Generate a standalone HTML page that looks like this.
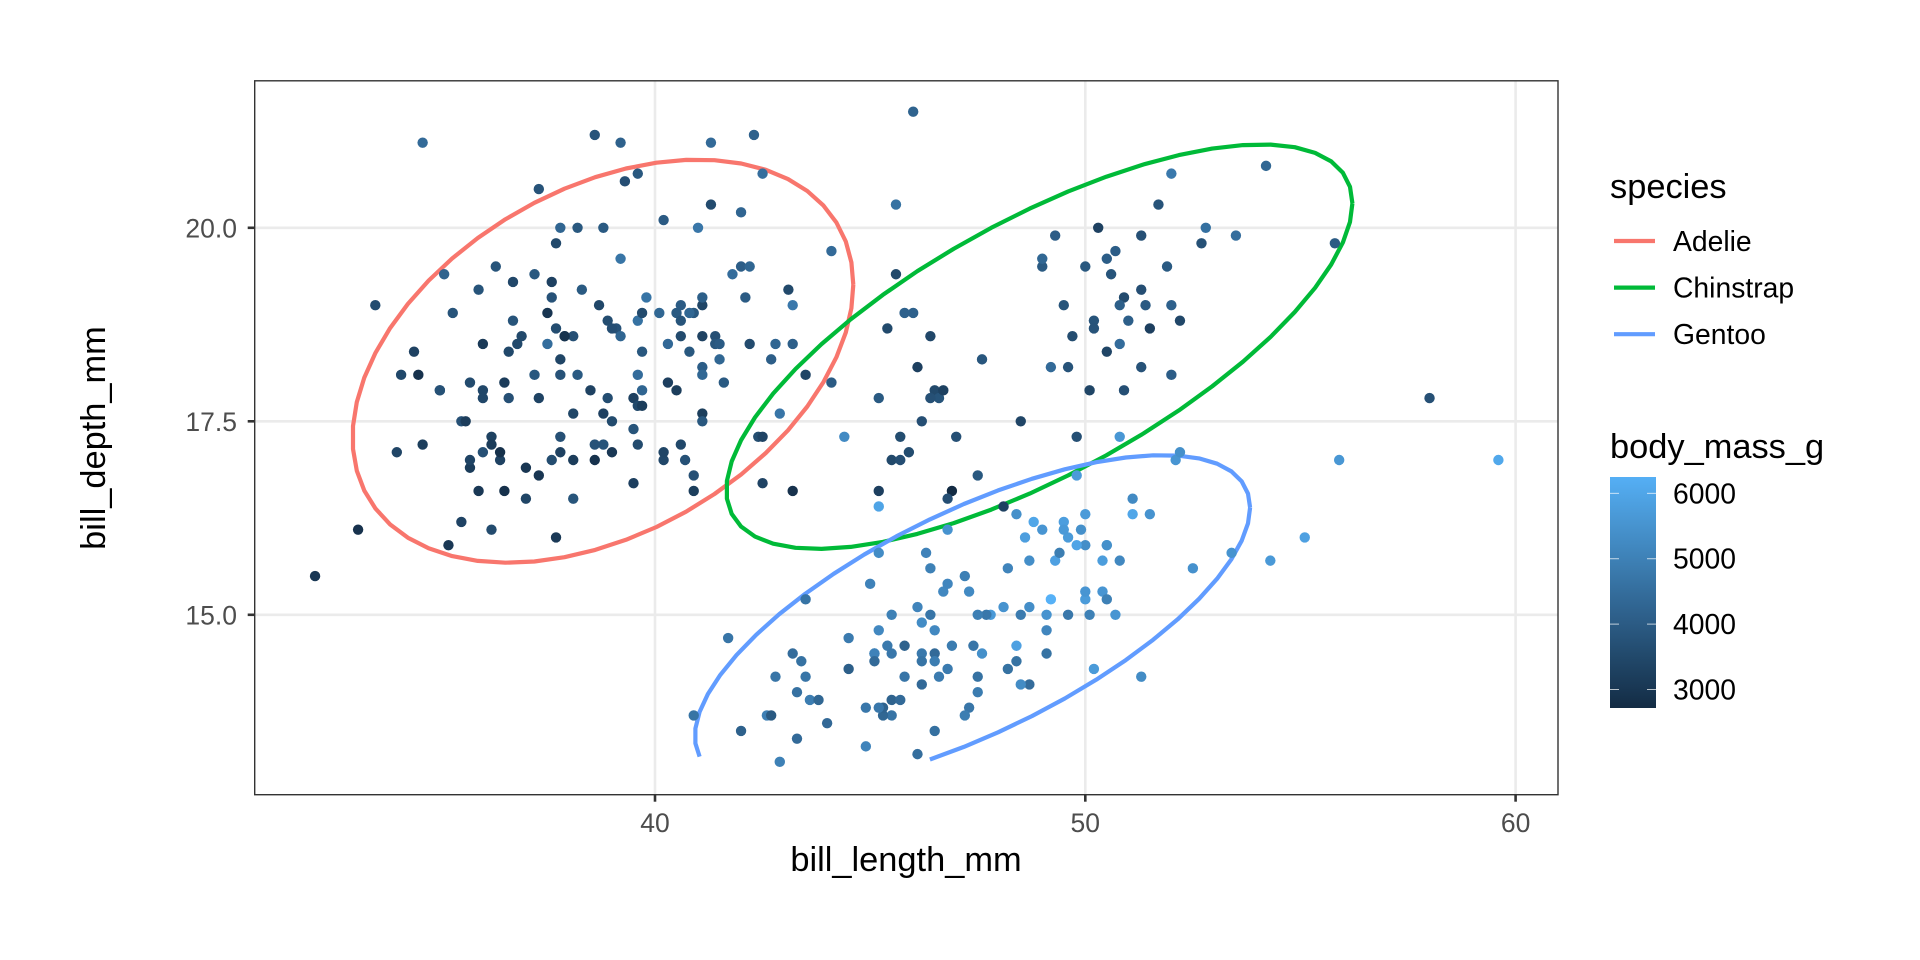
<!DOCTYPE html>
<html><head><meta charset="utf-8"><style>
html,body{margin:0;padding:0;background:#fff;}
svg{display:block;font-family:"Liberation Sans",sans-serif;}
</style></head><body>
<svg id="chart" width="1920" height="960" viewBox="0 0 1920 960">
<rect width="1920" height="960" fill="#fff"/>
<g id="grid"></g>
<g id="ellipses"></g>
<g id="points"></g>
<rect x="254.7" y="80.8" width="1303.3" height="713.9" fill="none" stroke="#333" stroke-width="1.4"/>
<g id="axes"></g>
<text x="906" y="871" font-size="34.4" text-anchor="middle" fill="#000">bill_length_mm</text>
<text x="0" y="0" font-size="34.4" text-anchor="middle" fill="#000" transform="translate(105,438) rotate(-90)">bill_depth_mm</text>
<g id="legend">
<text x="1610" y="198" font-size="34.4" fill="#000">species</text>
<text x="1610" y="458" font-size="34.4" fill="#000">body_mass_g</text>
</g>
</svg>
<script>
const categories = ["Adelie","Chinstrap","Gentoo"];
const speciesColors = ["#F8766D","#00BA38","#619CFF"];
const xTicks = [40,50,60];
const yTicks = [15,17.5,20];
const yTickLabels = ["15.0","17.5","20.0"];
const massTicks = [3000,4000,5000,6000];
const adelieX=[39.1,39.5,40.3,36.7,39.3,38.9,39.2,34.1,42,37.8,37.8,41.1,38.6,34.6,36.6,38.7,42.5,34.4,46,37.8,37.7,35.9,38.2,38.8,35.3,40.6,40.5,37.9,40.5,39.5,37.2,39.5,40.9,36.4,39.2,38.8,42.2,37.6,39.8,36.5,40.8,36,44.1,37,39.6,41.1,37.5,36,42.3,39.6,40.1,35,42,34.5,41.4,39,40.6,36.5,37.6,35.7,41.3,37.6,41.1,36.4,41.6,35.5,41.1,35.9,41.8,33.5,39.7,39.6,45.8,35.5,42.8,40.9,37.2,36.2,42.1,34.6,42.9,36.7,35.1,37.3,41.3,36.3,36.9,38.3,38.9,35.7,41.1,34,39.6,36.2,40.8,38.1,40.3,33.1,43.2,35,41,37.7,37.8,37.9,39.7,38.6,38.2,38.1,43.2,38.1,45.6,39.7,42.2,39.6,42.7,38.6,37.3,35.7,41.1,36.2,37.7,40.2,41.4,35.2,40.6,38.8,41.5,39,44.1,38.5,43.1,36.8,37.5,38.1,41.1,35.6,40.2,37,39.7,40.2,40.6,32.1,40.7,37.3,39,39.2,36.6,36,37.8,36,41.5];
const adelieY=[18.7,17.4,18,19.3,20.6,17.8,19.6,18.1,20.2,17.1,17.3,17.6,21.2,21.1,17.8,19,20.7,18.4,21.5,18.3,18.7,19.2,18.1,17.2,18.9,18.6,17.9,18.6,18.9,16.7,18.1,17.8,18.9,17,21.1,20,18.5,19.3,19.1,18,18.4,18.5,19.7,16.9,18.8,19,18.9,17.9,21.2,17.7,18.9,17.9,19.5,18.1,18.6,17.5,18.8,16.6,19.1,16.9,21.1,17,18.2,17.1,18,16.2,19.1,16.6,19.4,19,18.4,17.2,18.9,17.5,18.5,16.8,19.4,16.1,19.1,17.2,17.6,18.8,19.4,17.8,20.3,19.5,18.6,19.2,18.8,18,18.1,17.1,18.1,17.3,18.9,18.6,18.5,16.1,18.5,17.9,20,16,20,18.6,18.9,17.2,20,17,19,16.5,20.3,17.7,19.5,20.7,18.3,17,20.5,17,18.6,17.2,19.8,17,18.5,15.9,19,17.6,18.3,17.1,18,17.9,19.2,18.5,18.5,17.6,17.5,17.5,20.1,16.5,17.9,17.1,17.2,15.5,17,16.8,18.7,18.6,18.4,17.8,18.1,17.1,18.5];
const adelieMass=[3750,3800,3250,3450,3650,3625,4675,3475,4250,3300,3700,3200,3800,4400,3700,3450,4500,3325,4200,3400,3600,3800,3950,3800,3800,3550,3200,3150,3950,3250,3900,3300,3900,3325,4150,3950,3550,3300,4650,3150,3900,3100,4400,3000,4600,3425,2975,3450,4150,3500,4300,3450,4050,2900,3700,3550,3800,2850,3750,3150,4400,3600,4050,2850,3950,3350,4100,3050,4450,3600,3900,3550,4150,3700,4250,3700,3900,3550,4000,3200,4700,3800,4200,3350,3550,3800,3500,3950,3600,3550,4300,3400,4450,3300,4300,3700,4350,2900,4100,3725,4725,3075,4250,2925,3550,3750,3900,3175,4775,3825,4600,3200,4275,3900,4075,2900,3775,3350,3325,3150,3500,3450,3875,3050,4000,3275,4300,3050,4000,3325,3500,3500,4475,3425,3900,3175,3975,3400,4250,3400,3475,3050,3725,3000,3650,4250,3475,3450,3750,3700,4000];
const gentooX=[46.1,50,48.7,50,47.6,46.5,45.4,46.7,43.3,46.8,40.9,49,45.5,48.4,45.8,49.3,42,49.2,46.2,48.7,50.2,45.1,46.5,46.3,42.9,46.1,44.5,47.8,48.2,50,47.3,42.8,45.1,59.6,49.1,48.4,42.6,44.4,44,48.7,42.7,49.6,45.3,49.6,50.5,43.6,45.5,50.5,44.9,45.2,46.6,48.5,45.1,50.1,46.5,45,43.8,45.5,43.2,50.4,45.3,46.2,45.7,54.3,45.8,49.8,46.2,49.5,43.5,50.7,47.7,46.4,48.2,46.5,46.4,48.6,47.5,51.1,45.2,45.2,49.1,52.5,47.4,50,44.9,50.8,43.4,51.3,47.5,52.1,47.5,52.2,45.5,49.5,44.5,50.8,49.4,46.9,48.4,51.1,48.5,55.9,47.2,49.1,47.3,46.8,41.7,53.4,43.3,48.1,50.5,49.8,43.5,51.5,46.2,55.1,48.8,47.2,46.8,50.4,45.2,49.9];
const gentooY=[13.2,16.3,14.1,15.2,14.5,13.5,14.6,15.3,13.4,15.4,13.7,16.1,13.7,14.6,14.6,15.7,13.5,15.2,14.5,15.1,14.3,14.5,14.5,15.8,13.1,15.1,14.3,15,14.3,15.3,15.3,14.2,14.5,17,14.8,16.3,13.7,17.3,13.6,15.7,13.7,16,13.7,15,15.9,13.9,13.9,15.9,13.3,15.8,14.2,14.1,14.4,15,14.4,15.4,13.9,15,14.5,15.3,13.8,14.9,13.9,15.7,14.2,16.8,14.4,16.2,14.2,15,15,15.6,15.6,14.8,15,16,14.2,16.3,13.8,16.4,14.5,15.6,14.6,15.9,13.8,17.3,14.4,14.2,14,17,15,17.1,14.5,16.1,14.7,15.7,15.8,14.6,14.4,16.5,15,17,15.5,15,13.8,16.1,14.7,15.8,14,15.1,15.2,15.9,15.2,16.3,14.1,16,16.2,13.7,14.3,15.7,14.8,16.1];
const gentooMass=[4500,5700,4450,5700,5400,4550,4800,5200,4400,5150,4650,5550,4650,5850,4200,5850,4150,6300,4800,5350,5700,5000,4400,5050,5000,5100,4100,5650,4600,5550,5250,4700,5050,6050,5150,5400,4950,5250,4350,5350,3950,5700,4300,4750,5550,4900,4200,5400,5100,5300,4850,5300,4400,5000,4900,5050,4300,5000,4450,5550,4200,5300,4400,5650,4700,5700,4650,5800,4700,5550,4750,5000,5100,5200,4700,5800,4600,6000,4750,5950,4625,5450,4725,5350,4750,5600,4600,5300,4875,5550,4950,5400,4750,5650,4850,5200,4925,4875,4625,5250,4850,5600,4975,5500,4725,5500,4700,5500,4575,5500,5000,5950,4650,5500,4375,5850,6000,4925,4850,5750,5200,5400];
const chinX=[46.5,50,51.3,45.4,52.7,45.2,46.1,51.3,46,51.3,46.6,51.7,47,52,45.9,50.5,50.3,58,46.4,49.2,42.4,48.5,43.2,50.6,46.7,52,50.5,49.5,46.4,52.8,40.9,54.2,42.5,51,49.7,47.5,47.6,52,46.9,53.5,49,46.2,50.9,45.5,50.9,50.8,50.1,49,51.5,49.8,48.1,51.4,45.7,50.7,42.5,52.2,45.2,49.3,50.2,45.6,51.9,46.8,45.7,55.8,43.5,49.6,50.8,50.2];
const chinY=[17.9,19.5,19.2,18.7,19.8,17.8,18.2,18.2,18.9,19.9,17.8,20.3,17.3,18.1,17.1,19.6,20,17.8,18.6,18.2,17.3,17.5,16.6,19.4,17.9,19,18.4,19,17.8,20,16.6,20.8,16.7,18.8,18.6,16.8,18.3,20.7,16.6,19.9,19.5,17.5,19.1,17,17.9,18.5,17.9,19.6,18.7,17.3,16.4,19,17.3,19.7,17.3,18.8,16.6,19.9,18.8,19.4,19.5,16.5,17,19.8,18.1,18.2,19,18.7];
const chinMass=[3500,3900,3650,3525,3725,3950,3250,3750,4150,3700,3800,3775,3700,4050,3575,4050,3300,3700,3450,4400,3600,3400,2900,3800,3300,4150,3400,3800,3700,4550,3200,4300,3350,4100,3600,3900,3850,4800,2700,4500,3950,3650,3550,3500,3675,4450,3400,4300,3250,3675,3325,3950,3600,4050,3350,3450,3250,4050,3800,3525,3950,3650,3650,4000,3400,3775,4100,3775];

const SVGNS="http://www.w3.org/2000/svg";
function mk(tag,attrs,parent){const e=document.createElementNS(SVGNS,tag);for(const k in attrs)e.setAttribute(k,attrs[k]);parent.appendChild(e);return e;}
const PL=254.7,PR=1558,PT=80.8,PB=794.7;
const sx=v=>655+(v-40)*43.03;
const sy=v=>227.8+(20-v)*77.4;
const XMIN=32.1,XMAX=59.6,YMIN=13.1,YMAX=21.5;
const MMIN=2700,MMAX=6300;
function massColor(m){
  const t=Math.max(0,Math.min(1,(m-MMIN)/(MMAX-MMIN)));
  const a=[0x13,0x2B,0x43],b=[0x56,0xB1,0xF7];
  const c=a.map((v,i)=>Math.round(v+(b[i]-v)*t));
  return `rgb(${c[0]},${c[1]},${c[2]})`;
}
const grid=document.getElementById('grid');
xTicks.forEach(v=>{const l=mk('line',{x1:sx(v),x2:sx(v),y1:PT,y2:PB,stroke:'#EBEBEB','stroke-width':2.6},grid);

});
yTicks.forEach(v=>{const l=mk('line',{x1:PL,x2:PR,y1:sy(v),y2:sy(v),stroke:'#EBEBEB','stroke-width':2.6},grid);

});
const axes=document.getElementById('axes');
xTicks.forEach(v=>{const t=mk('line',{x1:sx(v),x2:sx(v),y1:PB,y2:PB+7,stroke:'#333','stroke-width':2.6},axes);


const tx=mk('text',{x:sx(v),y:832,'font-size':26.5,'text-anchor':'middle',fill:'#4D4D4D'},axes);tx.textContent=v;

});
yTicks.forEach((v,i)=>{const t=mk('line',{x1:PL-7,x2:PL,y1:sy(v),y2:sy(v),stroke:'#333','stroke-width':2.6},axes);


const tx=mk('text',{x:237,y:sy(v)+9.8,'font-size':26.5,'text-anchor':'end',fill:'#4D4D4D'},axes);tx.textContent=yTickLabels[i];

});

function covTrob(xs,ys){
  const n=xs.length,nu=5,p=2;let w=new Array(n).fill(1);let mx,my,a,b,c;
  for(let it=0;it<50;it++){
    let sw=0;mx=0;my=0;for(let i=0;i<n;i++){sw+=w[i];mx+=w[i]*xs[i];my+=w[i]*ys[i];}
    mx/=sw;my/=sw;a=0;b=0;c=0;
    for(let i=0;i<n;i++){const dx=xs[i]-mx,dy=ys[i]-my;a+=w[i]*dx*dx;b+=w[i]*dx*dy;c+=w[i]*dy*dy;}
    a/=n;b/=n;c/=n;const det=a*c-b*b;
    w=xs.map((x,i)=>{const dx=x-mx,dy=ys[i]-my;const q=(c*dx*dx-2*b*dx*dy+a*dy*dy)/det;return (nu+p)/(nu+q);});
  }
  return {mx,my,a,b,c};
}
const ell=document.getElementById('ellipses');
const groups=[[adelieX,adelieY],[chinX,chinY],[gentooX,gentooY]];
groups.forEach((g,gi)=>{
  const n=g[0].length;const {mx,my,a,b,c}=covTrob(g[0],g[1]);
  const dfd=n-1;const F=(dfd/2)*(Math.pow(0.05,-2/dfd)-1);const r=Math.sqrt(2*F);
  const l11=Math.sqrt(a),l12=b/l11,l22=Math.sqrt(c-l12*l12);
  const segs=[];let cur=[];
  for(let k=0;k<=51;k++){
    const th=k*2*Math.PI/51;const u=Math.cos(th),v=Math.sin(th);
    const x=mx+r*(u*l11),y=my+r*(u*l12+v*l22);
    if(x<XMIN||x>XMAX||y<YMIN||y>YMAX){if(cur.length)segs.push(cur);cur=[];}
    else cur.push([sx(x),sy(y)]);
  }
  if(cur.length)segs.push(cur);
  segs.forEach(s=>{
    const p=mk('path',{d:'M'+s.map(q=>q[0].toFixed(1)+','+q[1].toFixed(1)).join('L'),fill:'none',stroke:speciesColors[gi],'stroke-width':4.2,'stroke-linejoin':'round'},ell);
    
    
  });
});
const pts=document.getElementById('points');
[[adelieX,adelieY,adelieMass,'adelie'],[gentooX,gentooY,gentooMass,'gentoo'],[chinX,chinY,chinMass,'chinstrap']].forEach(g=>{
  g[0].forEach((x,i)=>{
    const c=mk('circle',{cx:sx(x),cy:sy(g[1][i]),r:5.2,fill:massColor(g[2][i])},pts);
    
    
  });
});
const lg=document.getElementById('legend');
categories.forEach((s,i)=>{
  const y=241+i*46.6;
  const l=mk('line',{x1:1614,x2:1655,y1:y,y2:y,stroke:speciesColors[i],'stroke-width':4.2},lg);
  
  
  const t=mk('text',{x:1673,y:y+10,'font-size':28.3,fill:'#000'},lg);t.textContent=s;
  
  
});
const defs=mk('defs',{},document.getElementById('chart'));
const grad=mk('linearGradient',{id:'mg',x1:0,y1:1,x2:0,y2:0},defs);
const BT=477,BB=708,BMIN=2717,BMAX=6250;
for(let k=0;k<=10;k++){mk('stop',{offset:k/10,'stop-color':massColor(BMIN+(BMAX-BMIN)*k/10)},grad);}
const bar=mk('rect',{x:1610,y:BT,width:46,height:BB-BT,fill:'url(#mg)'},lg);


const my=m=>BB-(m-BMIN)/(BMAX-BMIN)*(BB-BT);
massTicks.forEach(m=>{
  mk('line',{x1:1610,x2:1619,y1:my(m),y2:my(m),stroke:'#fff','stroke-width':1,'stroke-opacity':0.7},lg);
  mk('line',{x1:1647,x2:1656,y1:my(m),y2:my(m),stroke:'#fff','stroke-width':1,'stroke-opacity':0.7},lg);
  const t=mk('text',{x:1673,y:my(m)+10,'font-size':28.3,fill:'#000'},lg);t.textContent=m;
  
  
});
</script>
</body></html>
